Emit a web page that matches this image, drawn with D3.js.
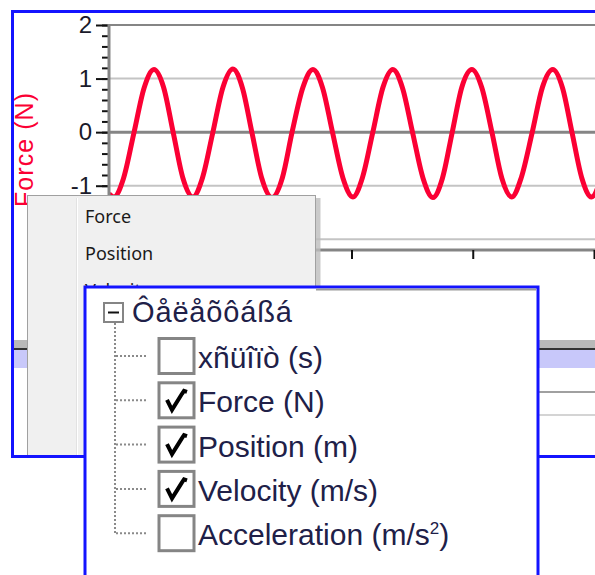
<!DOCTYPE html>
<html><head><meta charset="utf-8">
<script src="https://cdn.jsdelivr.net/npm/d3@7/dist/d3.min.js"></script>
<style>html,body{margin:0;padding:0;background:#fff;overflow:hidden}svg{display:block}</style>
</head><body>
<script>
// ---- data ----
const time = [0.00,0.04,0.12,0.205,0.29,0.371,0.45,0.53,0.61,0.692,0.77,0.855,0.94,1.022,1.10,1.18,1.26,1.344,1.43,1.51,1.60,1.682,1.76,1.845,1.93,2.012,2.09,2.175,2.26,2.341,2.42,2.505,2.59,2.671,2.75,2.83,2.91,2.993,3.075,3.16,3.24,3.322,3.40,3.49,3.575,3.660,3.74,3.82,3.90,3.98,4.06];
const force = [-1.15,-1.21,-0.86,-0.02,0.83,1.17,0.84,-0.01,-0.86,-1.21,-0.86,-0.02,0.84,1.18,0.83,-0.02,-0.86,-1.22,-0.85,0.0,0.84,1.17,0.84,-0.02,-0.86,-1.21,-0.85,-0.01,0.84,1.17,0.83,-0.02,-0.86,-1.22,-0.86,-0.01,0.84,1.17,0.83,-0.02,-0.86,-1.21,-0.85,-0.01,0.84,1.17,0.83,-0.02,-0.86,-1.21,-0.84];
const yTickValues = [2, 1, 0, -1];
const yGridValues = [1, 0, -1, -2];
const xTickValues = [1, 2, 3, 4];
const yAxisTitle = "Force (N)";
const menuItems = ["Force", "Position", "Velocity"];
const treeRoot = "Ôåëåõôáßá";
const treeItems = ["xñüîïò (s)", "Force (N)", "Position (m)", "Velocity (m/s)", "Acceleration (m/s"];
const treeChecked = [false, true, true, true, false];

const W = 595, H = 575;
const svg = d3.select("body").append("svg").attr("width", W).attr("height", H);
const FONT = "'Liberation Sans', Arial, sans-serif";

const x = d3.scaleLinear().domain([0, 4]).range([109, 594]);
const y = d3.scaleLinear().domain([-2.2, 2]).range([250, 25]);

// background bands of the underlying window
svg.append("rect").attr("x", 13).attr("y", 340).attr("width", W - 13).attr("height", 8).attr("fill", "#b9b9b9");
svg.append("rect").attr("x", 13).attr("y", 348).attr("width", W - 13).attr("height", 2).attr("fill", "#333");
svg.append("rect").attr("x", 13).attr("y", 350).attr("width", W - 13).attr("height", 18).attr("fill", "#c8c8fa");
svg.append("rect").attr("x", 539).attr("y", 391).attr("width", 60).attr("height", 2).attr("fill", "#a0a0a0");
svg.append("rect").attr("x", 539).attr("y", 414).attr("width", 60).attr("height", 2).attr("fill", "#d4d4d4");

// gridlines
const grid = svg.append("g");
grid.selectAll("line").data(yGridValues).join("line")
  .attr("x1", x(0)).attr("x2", W + 5)
  .attr("y1", d => y(d)).attr("y2", d => y(d))
  .attr("stroke", d => d === 0 ? "#858585" : "#c4c4c4")
  .attr("stroke-width", d => d === 0 ? 3 : 2);
// top frame line
svg.append("line").attr("x1", x(0)).attr("x2", W + 5).attr("y1", y(2)).attr("y2", y(2))
  .attr("stroke", "#858585").attr("stroke-width", 2);

// force curve
svg.append("clipPath").attr("id", "plot").append("rect")
  .attr("x", x(0)).attr("y", y(2)).attr("width", W - x(0)).attr("height", y(-2.2) - y(2));
const pts = time.map((t, i) => [t, force[i]]);
svg.append("path").datum(pts).attr("clip-path", "url(#plot)")
  .attr("fill", "none").attr("stroke", "#fb0034").attr("stroke-width", 5)
  .attr("stroke-linejoin", "round")
  .attr("d", d3.line().x(d => x(d[0])).y(d => y(d[1])).curve(d3.curveMonotoneX));

// y axis: minor ticks
const minor = d3.range(-22, 21, 2).map(v => v / 10);
svg.append("g").attr("transform", `translate(${x(0)},0)`)
  .call(d3.axisLeft(y).tickValues(minor).tickSize(7).tickFormat(""))
  .call(g => g.select(".domain").remove())
  .call(g => g.selectAll(".tick line").attr("stroke", "#111").attr("stroke-width", 2));
// y axis: major ticks
const yAx = svg.append("g").attr("transform", `translate(${x(0)},0)`)
  .call(d3.axisLeft(y).tickValues(yTickValues).tickSize(13).tickPadding(4).tickFormat(d3.format("d")))
  .call(g => g.select(".domain").remove())
  .call(g => g.selectAll(".tick line").attr("stroke", "#111").attr("stroke-width", 2))
  .call(g => g.selectAll(".tick text").attr("font-family", FONT).attr("font-size", 24).attr("fill", "#1a1a2a"));
yAx.selectAll(".tick text").text(d => d < 0 ? "-" + Math.abs(d) : d);
// y axis line
svg.append("line").attr("x1", x(0)).attr("x2", x(0)).attr("y1", y(2) - 1).attr("y2", y(-2.2) + 1)
  .attr("stroke", "#858585").attr("stroke-width", 3);

// x axis
svg.append("g").attr("transform", `translate(0,${y(-2.2)})`)
  .call(d3.axisBottom(x).tickValues(xTickValues).tickSize(9).tickFormat(""))
  .call(g => g.select(".domain").attr("stroke", "#858585").attr("stroke-width", 3).attr("d", `M${x(0)},0H${W + 5}`))
  .call(g => g.selectAll(".tick line").attr("stroke", "#111").attr("stroke-width", 2));

// y axis title
svg.append("text").attr("transform", "translate(33,150) rotate(-90)")
  .attr("text-anchor", "middle").attr("font-family", FONT).attr("font-size", 25)
  .attr("fill", "#fb0034").attr("textLength", 114).text(yAxisTitle);

// outer blue frame
svg.append("path").attr("d", `M${W + 5},11.5H12.5V456.5H${W + 5}`)
  .attr("fill", "none").attr("stroke", "#1414ff").attr("stroke-width", 3);

// context menu
const menu = svg.append("g");
menu.append("rect").attr("x", 315.5).attr("y", 198).attr("width", 5).attr("height", 258)
  .attr("fill", "#bdbdbd").attr("opacity", 0.8);
menu.append("rect").attr("x", 27.5).attr("y", 195.5).attr("width", 288).attr("height", 262)
  .attr("fill", "#f0f0f0").attr("stroke", "#a0a0a0").attr("stroke-width", 1);
menu.append("line").attr("x1", 76.5).attr("x2", 76.5).attr("y1", 198).attr("y2", 456)
  .attr("stroke", "#e2e2e2").attr("stroke-width", 1);
menu.append("line").attr("x1", 77.5).attr("x2", 77.5).attr("y1", 198).attr("y2", 456)
  .attr("stroke", "#ffffff").attr("stroke-width", 1);
menu.selectAll("text").data(menuItems).join("text")
  .attr("x", 85).attr("y", (d, i) => 223 + i * 37)
  .attr("font-family", "'Noto Sans', 'Open Sans', sans-serif").attr("font-size", 18)
  .attr("fill", "#1a1a1a").text(d => d);
// redraw frame bottom across menu
svg.append("line").attr("x1", 11).attr("x2", 86).attr("y1", 456.5).attr("y2", 456.5)
  .attr("stroke", "#1414ff").attr("stroke-width", 3);

// tree panel
const tree = svg.append("g");
tree.append("rect").attr("x", 85).attr("y", 287).attr("width", 453).attr("height", 300)
  .attr("fill", "#fff").attr("stroke", "#1414ff").attr("stroke-width", 3);
tree.append("line").attr("x1", 316).attr("x2", 536).attr("y1", 289.5).attr("y2", 289.5)
  .attr("stroke", "#9a9a9a").attr("stroke-width", 2);

const rowY = i => 356 + i * 44.3;
// dotted connectors
tree.append("line").attr("x1", 115).attr("x2", 115).attr("y1", 323).attr("y2", rowY(4))
  .attr("stroke", "#8a8a8a").attr("stroke-width", 2).attr("stroke-dasharray", "2,2");
tree.selectAll("line.h").data(treeItems).join("line").attr("class", "h")
  .attr("x1", 116).attr("x2", 148).attr("y1", (d, i) => rowY(i)).attr("y2", (d, i) => rowY(i))
  .attr("stroke", "#8a8a8a").attr("stroke-width", 2).attr("stroke-dasharray", "2,2");
// minus box
tree.append("rect").attr("x", 104).attr("y", 303).attr("width", 19).attr("height", 19)
  .attr("fill", "#fff").attr("stroke", "#858585").attr("stroke-width", 2);
tree.append("line").attr("x1", 108).attr("x2", 119).attr("y1", 312.5).attr("y2", 312.5)
  .attr("stroke", "#111").attr("stroke-width", 2);
tree.append("text").attr("x", 132).attr("y", 322).attr("font-family", FONT).attr("font-size", 29)
  .attr("fill", "#202048").attr("textLength", 160).text(treeRoot);
// checkboxes
tree.selectAll("rect.cb").data(treeItems).join("rect").attr("class", "cb")
  .attr("x", 159).attr("y", (d, i) => rowY(i) - 17.5).attr("width", 35).attr("height", 35)
  .attr("fill", "#fff").attr("stroke", "#858585").attr("stroke-width", 3);
tree.selectAll("path.ck").data(treeItems.filter((d, i) => treeChecked[i])).join("path").attr("class", "ck")
  .attr("transform", d => `translate(159,${rowY(treeItems.indexOf(d)) - 17.5})`)
  .attr("d", "M8,17 L13,27 L23,11 M23,11 L25,8 L28,9")
  .attr("fill", "none").attr("stroke", "#000").attr("stroke-width", 4).attr("stroke-linejoin", "miter");
// labels
const lbl = tree.selectAll("text.lb").data(treeItems).join("text").attr("class", "lb")
  .attr("x", 198).attr("y", (d, i) => rowY(i) + 12)
  .attr("font-family", FONT).attr("font-size", 30).attr("fill", "#202048");
lbl.text(d => d);
lbl.filter((d, i) => i === 4).each(function () {
  const t = d3.select(this);
  t.append("tspan").attr("dy", -11).attr("font-size", 17).text("2");
  t.append("tspan").attr("dy", 11).text(")");
});
</script>
</body></html>
